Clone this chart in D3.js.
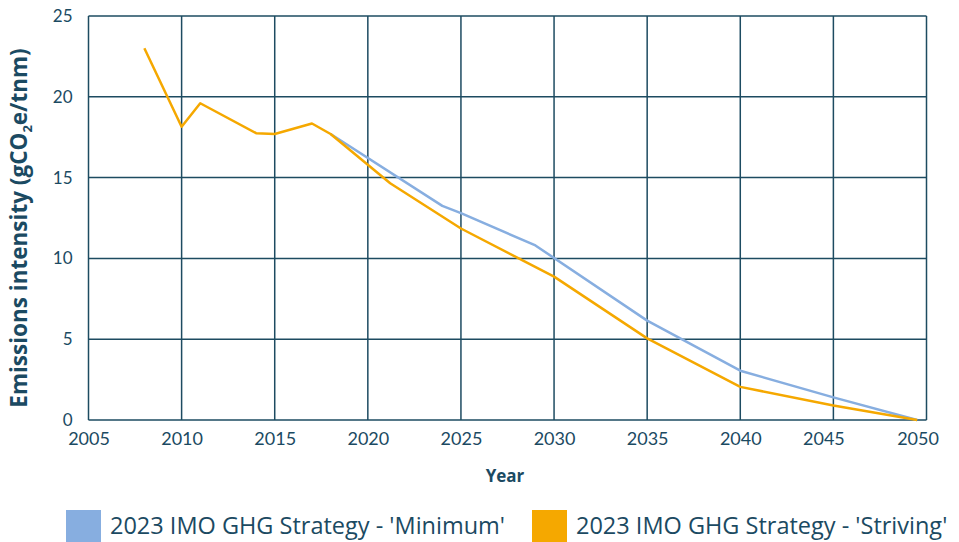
<!DOCTYPE html>
<html>
<head>
<meta charset="utf-8">
<script src="https://cdn.jsdelivr.net/npm/d3@7"></script>
<style>
  html, body { margin: 0; padding: 0; background: #fff; }
  svg { display: block; font-family: "Open Sans", "Lato", sans-serif; }
</style>
</head>
<body>
<div id="chart"></div>
<script>
// Emissions intensity pathways (gCO2e/tnm)
var STRIVING_YEARS = [2008, 2010, 2011, 2014, 2015, 2017, 2018, 2021.2, 2025, 2030, 2035, 2040, 2045, 2049.5];
var STRIVING_VALUES = [23.0, 18.15, 19.6, 17.75, 17.7, 18.35, 17.7, 14.65, 11.85, 8.87, 5.05, 2.05, 0.9, 0];

var MINIMUM_YEARS = [2018, 2024, 2025, 2029, 2035, 2040, 2045, 2049.5];
var MINIMUM_VALUES = [17.7, 13.25, 12.8, 10.8, 6.15, 3.05, 1.4, 0];

var X_TICKS = [2005, 2010, 2015, 2020, 2025, 2030, 2035, 2040, 2045, 2050];
var Y_TICKS = [0, 5, 10, 15, 20, 25];

var SERIES = [
  { name: "2023 IMO GHG Strategy - 'Minimum'", years: MINIMUM_YEARS, values: MINIMUM_VALUES, color: "#87aee0" },
  { name: "2023 IMO GHG Strategy - 'Striving'", years: STRIVING_YEARS, values: STRIVING_VALUES, color: "#f5a800" }
];

var INK = "#1b4a62";
var GRID = "#1d4b61";

var width = 959, height = 542;
var plot = { left: 88.5, right: 926.5, top: 16, bottom: 420 };

var svg = d3.select("#chart").append("svg")
  .attr("width", width)
  .attr("height", height);

var x = d3.scaleLinear().domain([2005, 2050]).range([plot.left, plot.right]);
var y = d3.scaleLinear().domain([0, 25]).range([plot.bottom, plot.top]);

// grid
var grid = svg.append("g").attr("class", "grid");
grid.selectAll(".vgrid")
  .data(X_TICKS)
  .enter().append("line")
  .attr("x1", function(d) { return x(d); })
  .attr("x2", function(d) { return x(d); })
  .attr("y1", plot.top)
  .attr("y2", plot.bottom)
  .attr("stroke", GRID)
  .attr("stroke-width", 1.5);

grid.selectAll(".hgrid")
  .data(Y_TICKS)
  .enter().append("line")
  .attr("x1", plot.left)
  .attr("x2", plot.right)
  .attr("y1", function(d) { return y(d); })
  .attr("y2", function(d) { return y(d); })
  .attr("stroke", GRID)
  .attr("stroke-width", 1.5);

// axes (labels only, grid draws the lines)
var xAxis = svg.append("g")
  .attr("transform", "translate(0," + plot.bottom + ")")
  .call(d3.axisBottom(x).tickValues(X_TICKS).tickFormat(d3.format("d")).tickSize(0).tickPadding(12));
xAxis.select(".domain").remove();
xAxis.selectAll("text")
  .attr("font-size", "18px")
  .attr("font-family", "Lato, sans-serif")
  .attr("fill", INK)
  .attr("dx", function(d) { return d === 2050 ? -9 : (d === 2045 ? -10 : 0); });

var yAxis = svg.append("g")
  .attr("transform", "translate(" + plot.left + ",0)")
  .call(d3.axisLeft(y).tickValues(Y_TICKS).tickSize(0).tickPadding(16));
yAxis.select(".domain").remove();
yAxis.selectAll("text")
  .attr("font-size", "17px")
  .attr("font-family", "Lato, sans-serif")
  .attr("fill", INK);

// lines
var line = d3.line()
  .x(function(d) { return x(d[0]); })
  .y(function(d) { return y(d[1]); });

SERIES.forEach(function(s) {
  var pts = s.years.map(function(yr, i) { return [yr, s.values[i]]; });
  svg.append("path")
    .datum(pts)
    .attr("d", line)
    .attr("fill", "none")
    .attr("stroke", s.color)
    .attr("stroke-width", 2.5)
    .attr("stroke-linejoin", "round");
});

// axis titles
svg.append("text")
  .attr("x", 505)
  .attr("y", 482)
  .attr("text-anchor", "middle")
  .attr("font-size", "17px")
  .attr("font-weight", "700")
  .attr("fill", INK)
  .text("Year");

var yTitle = svg.append("text")
  .attr("transform", "translate(27,228) rotate(-90)")
  .attr("text-anchor", "middle")
  .attr("font-size", "22.5px")
  .attr("font-weight", "700")
  .attr("fill", INK);
yTitle.append("tspan").text("Emissions intensity (gCO");
yTitle.append("tspan").attr("font-size", "13px").attr("dy", 5).text("2");
yTitle.append("tspan").attr("dy", -5).text("e/tnm)");

// legend
var legendX = [66, 532];
var legend = svg.append("g").attr("class", "legend");
SERIES.forEach(function(s, i) {
  legend.append("rect")
    .attr("x", legendX[i])
    .attr("y", 510)
    .attr("width", 35)
    .attr("height", 32)
    .attr("fill", s.color);
  legend.append("text")
    .attr("x", legendX[i] + 44)
    .attr("y", 534)
    .attr("font-size", "23.5px")
    .attr("fill", INK)
    .text(s.name);
});
</script>
</body>
</html>
